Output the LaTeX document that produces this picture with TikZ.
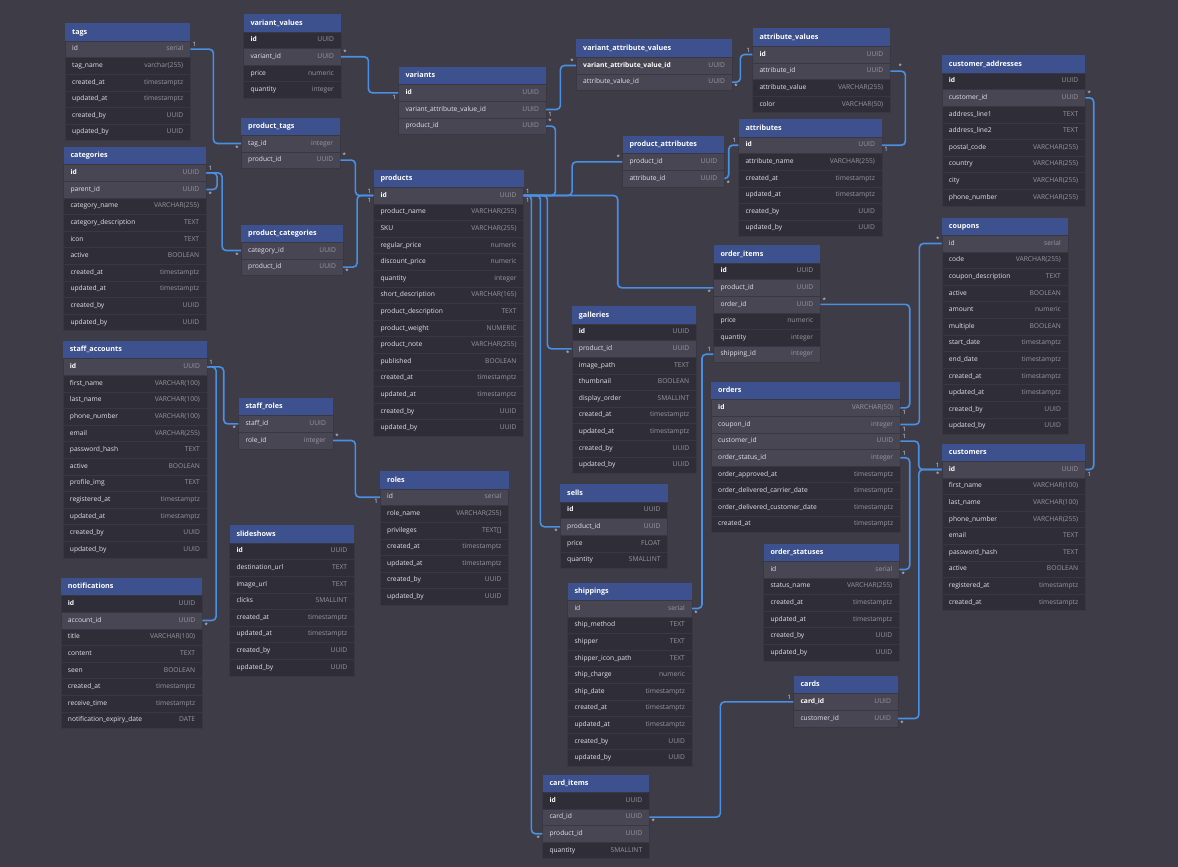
\documentclass[tikz,border=0pt]{standalone}
\usepackage{fontspec}
\setmainfont{Open Sans}
\definecolor{canvas}{RGB}{62,60,71}
\definecolor{tablebody}{RGB}{47,45,56}
\definecolor{rowhl}{RGB}{72,70,82}
\definecolor{rowsep}{RGB}{57,55,67}
\definecolor{headblue}{RGB}{61,81,143}
\definecolor{linkblue}{RGB}{74,144,226}
\definecolor{nametext}{RGB}{226,226,236}
\definecolor{typetext}{RGB}{150,150,162}
\tikzset{
  tablehead/.style={rectangle, fill=headblue, minimum height=17.7, inner sep=0pt},
  tabletitle/.style={text=white, font=\bfseries\fontsize{7.2}{8}\selectfont, inner sep=0pt, text height=5.5pt, text depth=1.5pt},
  tablerow/.style={rectangle, draw=rowsep, line width=0.4pt, minimum height=16.6, inner sep=0pt},
  rown/.style={fill=tablebody}, rowp/.style={fill=tablebody},
  rowh/.style={fill=rowhl}, rowb/.style={fill=rowhl},
  fieldname/.style={text=nametext, font=\fontsize{6.7}{7}\selectfont, inner sep=0pt, text height=5pt, text depth=1.5pt},
  namen/.style={}, nameh/.style={},
  namep/.style={font=\bfseries\fontsize{6.7}{7}\selectfont, text=white},
  nameb/.style={font=\bfseries\fontsize{6.7}{7}\selectfont, text=white},
  fieldtype/.style={text=typetext, font=\fontsize{6.7}{7}\selectfont, inner sep=0pt, text height=5pt, text depth=1.5pt},
  rel/.style={draw=linkblue, line width=1.6pt, rounded corners=4pt},
  lab/.style={text=nametext, font=\fontsize{6}{6}\selectfont, inner sep=1.5pt}
}
% one table: name, left x, top y, width, rows name/type/kind
\newcommand{\erdtable}[5]{%
  \node[tablehead, minimum width=#4, anchor=north west] (#1) at (#2,#3) {};
  \node[tabletitle, anchor=west] (#1-title) at ([xshift=7pt]#1.west) {#1};
  \foreach \fname/\ftype/\fkind [count=\i] in {#5} {
    \pgfmathsetmacro{\rowy}{#3+17.7+16.6*(\i-1)}
    \node[tablerow, row\fkind, minimum width=#4, anchor=north west] (#1-\fname) at (#2,\rowy) {};
    \node[fieldname, name\fkind, anchor=west] (#1-\fname-n) at ([xshift=7pt]#1-\fname.west) {\fname};
    \node[fieldtype, anchor=east] (#1-\fname-t) at ([xshift=-7pt]#1-\fname.east) {\ftype};
  }
}
\begin{document}
\catcode`\_=12
\begin{tikzpicture}[x=1pt,y=-1pt]
\fill[canvas] (0,0) rectangle (1178,867);
\useasboundingbox (0,0) rectangle (1178,867);

% left column
\erdtable{tags}{65}{23}{125}{id/serial/h, tag_name/varchar(255)/n, created_at/timestamptz/n, updated_at/timestamptz/n, created_by/UUID/n, updated_by/UUID/n}
\erdtable{categories}{63.3}{146.7}{142.7}{id/UUID/b, parent_id/UUID/h, category_name/VARCHAR(255)/n, category_description/TEXT/n, icon/TEXT/n, active/BOOLEAN/n, created_at/timestamptz/n, updated_at/timestamptz/n, created_by/UUID/n, updated_by/UUID/n}
\erdtable{staff_accounts}{62.7}{340.7}{144}{id/UUID/b, first_name/VARCHAR(100)/n, last_name/VARCHAR(100)/n, phone_number/VARCHAR(100)/n, email/VARCHAR(255)/n, password_hash/TEXT/n, active/BOOLEAN/n, profile_img/TEXT/n, registered_at/timestamptz/n, updated_at/timestamptz/n, created_by/UUID/n, updated_by/UUID/n}
\erdtable{notifications}{60.7}{577.7}{141.3}{id/UUID/p, account_id/UUID/h, title/VARCHAR(100)/n, content/TEXT/n, seen/BOOLEAN/n, created_at/timestamptz/n, receive_time/timestamptz/n, notification_expiry_date/DATE/n}

% second column
\erdtable{variant_values}{243.3}{14}{97.4}{id/UUID/p, variant_id/UUID/h, price/numeric/n, quantity/integer/n}
\erdtable{product_tags}{241}{117.3}{99}{tag_id/integer/h, product_id/UUID/h}
\erdtable{product_categories}{241}{224.3}{101.7}{category_id/UUID/h, product_id/UUID/h}
\erdtable{staff_roles}{238.3}{397.7}{94.4}{staff_id/UUID/h, role_id/integer/h}
\erdtable{slideshows}{229.3}{525}{124.7}{id/UUID/p, destination_url/TEXT/n, image_url/TEXT/n, clicks/SMALLINT/n, created_at/timestamptz/n, updated_at/timestamptz/n, created_by/UUID/n, updated_by/UUID/n}

% products and neighbours
\erdtable{variants}{398.3}{66.7}{147.4}{id/UUID/b, variant_attribute_value_id/UUID/h, product_id/UUID/h}
\erdtable{products}{373.3}{169.3}{150}{id/UUID/b, product_name/VARCHAR(255)/n, SKU/VARCHAR(255)/n, regular_price/numeric/n, discount_price/numeric/n, quantity/integer/n, short_description/VARCHAR(165)/n, product_description/TEXT/n, product_weight/NUMERIC/n, product_note/VARCHAR(255)/n, published/BOOLEAN/n, created_at/timestamptz/n, updated_at/timestamptz/n, created_by/UUID/n, updated_by/UUID/n}
\erdtable{roles}{380}{471}{128.3}{id/serial/h, role_name/VARCHAR(255)/n, privileges/{TEXT[]}/n, created_at/timestamptz/n, updated_at/timestamptz/n, created_by/UUID/n, updated_by/UUID/n}
\erdtable{galleries}{571.7}{306}{124.3}{id/UUID/p, product_id/UUID/h, image_path/TEXT/n, thumbnail/BOOLEAN/n, display_order/SMALLINT/n, created_at/timestamptz/n, updated_at/timestamptz/n, created_by/UUID/n, updated_by/UUID/n}
\erdtable{sells}{560}{484}{107.3}{id/UUID/p, product_id/UUID/h, price/FLOAT/n, quantity/SMALLINT/n}
\erdtable{shippings}{567.3}{582.3}{124.4}{id/serial/h, ship_method/TEXT/n, shipper/TEXT/n, shipper_icon_path/TEXT/n, ship_charge/numeric/n, ship_date/timestamptz/n, created_at/timestamptz/n, updated_at/timestamptz/n, created_by/UUID/n, updated_by/UUID/n}
\erdtable{card_items}{542.3}{774.3}{106.7}{id/UUID/p, card_id/UUID/h, product_id/UUID/h, quantity/SMALLINT/n}

% attributes and orders
\erdtable{variant_attribute_values}{576}{39.3}{155.7}{variant_attribute_value_id/UUID/b, attribute_value_id/UUID/h}
\erdtable{attribute_values}{752.3}{28.3}{137.7}{id/UUID/b, attribute_id/UUID/h, attribute_value/VARCHAR(255)/n, color/VARCHAR(50)/n}
\erdtable{product_attributes}{622.3}{135.7}{101.7}{product_id/UUID/h, attribute_id/UUID/h}
\erdtable{attributes}{738.3}{119}{143.4}{id/UUID/b, attribute_name/VARCHAR(255)/n, created_at/timestamptz/n, updated_at/timestamptz/n, created_by/UUID/n, updated_by/UUID/n}
\erdtable{order_items}{713.3}{245}{106.7}{id/UUID/p, product_id/UUID/h, order_id/UUID/h, price/numeric/n, quantity/integer/n, shipping_id/integer/h}
\erdtable{orders}{711}{381.7}{189}{id/VARCHAR(50)/b, coupon_id/integer/h, customer_id/UUID/h, order_status_id/integer/h, order_approved_at/timestamptz/n, order_delivered_carrier_date/timestamptz/n, order_delivered_customer_date/timestamptz/n, created_at/timestamptz/n}
\erdtable{order_statuses}{763.3}{543.3}{135.7}{id/serial/h, status_name/VARCHAR(255)/n, created_at/timestamptz/n, updated_at/timestamptz/n, created_by/UUID/n, updated_by/UUID/n}
\erdtable{cards}{793.3}{675.7}{104.4}{card_id/UUID/b, customer_id/UUID/h}

% right column
\erdtable{customer_addresses}{941.7}{55}{143.3}{id/UUID/p, customer_id/UUID/h, address_line1/TEXT/n, address_line2/TEXT/n, postal_code/VARCHAR(255)/n, country/VARCHAR(255)/n, city/VARCHAR(255)/n, phone_number/VARCHAR(255)/n}
\erdtable{coupons}{941.7}{217.3}{126}{id/serial/h, code/VARCHAR(255)/n, coupon_description/TEXT/n, active/BOOLEAN/n, amount/numeric/n, multiple/BOOLEAN/n, start_date/timestamptz/n, end_date/timestamptz/n, created_at/timestamptz/n, updated_at/timestamptz/n, created_by/UUID/n, updated_by/UUID/n}
\erdtable{customers}{941.7}{443.3}{143.3}{id/UUID/b, first_name/VARCHAR(100)/n, last_name/VARCHAR(100)/n, phone_number/VARCHAR(255)/n, email/TEXT/n, password_hash/TEXT/n, active/BOOLEAN/n, registered_at/timestamptz/n, created_at/timestamptz/n}

% relations
\draw[rel] (tags-id.east) node[lab, above right]{1} -- ++(23,0) |- (product_tags-tag_id.west) node[lab, below left]{*};
\draw[rel] (variant_values-variant_id.east) node[lab, above right]{*} -- ++(27.3,0) |- (variants-id.west) node[lab, below left]{1};
\draw[rel] (product_tags-product_id.east) node[lab, above right]{*} -- ++(15,0) |- (products-id.west) node[lab, above left]{1};
\draw[rel] (product_categories-product_id.east) node[lab, below right]{*} -- ++(14,0) |- (products-id.west) node[lab, below left]{1};
\draw[rel] (categories-id.east) node[lab, above right]{1} -- ++(10.7,0) |- (categories-parent_id.east) node[lab, below right]{*};
\draw[rel] (categories-id.east) -- ++(15.7,0) |- (product_categories-category_id.west) node[lab, below left]{*};
\draw[rel] (variants-variant_attribute_value_id.east) node[lab, below right]{1} -- ++(14.3,0) |- (variant_attribute_values-variant_attribute_value_id.west) node[lab, above left]{*};
\draw[rel] (variant_attribute_values-attribute_value_id.east) node[lab, below right]{*} -- ++(8.3,0) |- (attribute_values-id.west) node[lab, above left]{1};
\draw[rel] (attribute_values-attribute_id.east) node[lab, above right, xshift=6pt]{*} -- ++(15,0) |- (attributes-id.east) node[lab, below right]{1};
\draw[rel] (product_attributes-attribute_id.east) node[lab, below right]{*} -- ++(4.3,0) |- (attributes-id.west) node[lab, above left]{1};
\draw[rel] (products-id.east) node[lab, above right]{1} -- ++(31.7,0) |- (variants-product_id.east) node[lab, above right]{*};
\draw[rel] (products-id.east) node[lab, below right]{1} -- ++(48.4,0) |- (product_attributes-product_id.west) node[lab, above left]{*};
\draw[rel] (products-id.east) -- ++(94,0) |- (order_items-product_id.west) node[lab, below left]{*};
\draw[rel] (products-id.east) -- ++(23.7,0) |- (galleries-product_id.west) node[lab, below left]{*};
\draw[rel] (products-id.east) -- ++(16.7,0) |- (sells-product_id.west) node[lab, below left]{*};
\draw[rel] (products-id.east) -- ++(7.7,0) |- (card_items-product_id.west) node[lab, below left]{*};
\draw[rel] (order_items-order_id.east) node[lab, above right]{*} -- ++(89.3,0) |- (orders-id.east) node[lab, below right]{1};
\draw[rel] (order_items-shipping_id.west) node[lab, above left]{1} -- ++(-11.3,0) |- (shippings-id.east) node[lab, below right]{*};
\draw[rel] (orders-coupon_id.east) node[lab, below right]{1} -- ++(19,0) |- (coupons-id.west) node[lab, above left]{*};
\draw[rel] (orders-customer_id.east) node[lab, above right]{1} -- ++(18.3,0) |- (customers-id.west) node[lab, above left]{1};
\draw[rel] (orders-order_status_id.east) node[lab, above right]{1} -- ++(9.3,0) |- (order_statuses-id.east) node[lab, below right]{*};
\draw[rel] (cards-customer_id.east) node[lab, below right]{*} -- ++(20.8,0) |- (customers-id.west) node[lab, below left]{*};
\draw[rel] (customer_addresses-customer_id.east) node[lab, above right]{*} -- ++(8.3,0) |- (customers-id.east) node[lab, below right]{1};
\draw[rel] (card_items-card_id.east) node[lab, below right]{*} -- ++(71,0) |- (cards-card_id.west) node[lab, above left]{1};
\draw[rel] (staff_accounts-id.east) node[lab, above right]{1} -- ++(16.6,0) |- (staff_roles-staff_id.west) node[lab, below left]{*};
\draw[rel] (staff_accounts-id.east) -- ++(9,0) |- (notifications-account_id.east) node[lab, below right]{*};
\draw[rel] (staff_roles-role_id.east) node[lab, above right]{*} -- ++(22.3,0) |- (roles-id.west) node[lab, below left]{1};
\end{tikzpicture}
\end{document}
